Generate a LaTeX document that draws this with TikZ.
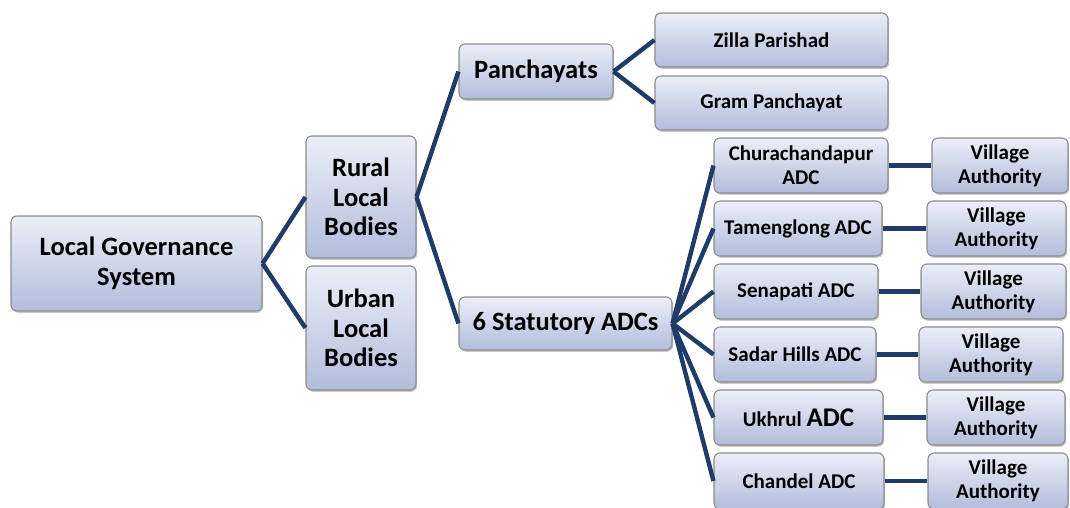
\documentclass[tikz,border=0pt]{standalone}
\usepackage{fontspec}
\setmainfont{Carlito}
\usetikzlibrary{shadows}
\definecolor{boxtop}{HTML}{ECEEF7}
\definecolor{boxbot}{HTML}{B2BDDC}
\definecolor{boxline}{HTML}{8C8C8C}
\definecolor{linkcol}{HTML}{1F3C68}
\tikzset{
  orgbox/.style={draw=boxline, line width=1.1pt, rounded corners=6pt,
    top color=boxtop, bottom color=boxbot, align=center,
    inner sep=0pt, font=\bfseries,
    drop shadow={shadow xshift=1.2pt, shadow yshift=-1.8pt, opacity=0.3, fill=black!70}},
  bigtext/.style={font=\fontsize{26.5}{29.5}\selectfont\bfseries},
  smalltext/.style={font=\fontsize{21}{24}\selectfont\bfseries},
  link/.style={draw=linkcol, line width=4.4pt}
}
% box from its left, right, top and bottom edges (x=1pt, y=-1pt)
\newcommand{\orgnode}[7]{%
  \node[orgbox,#7, minimum width=#3pt-#2pt, minimum height=#5pt-#4pt]
    (#1) at ({(#2+#3)/2},{(#4+#5)/2}) {#6};}
\begin{document}
\begin{tikzpicture}[x=1pt, y=-1pt]
\useasboundingbox (0,0) rectangle (1070,507);
% level 1
\orgnode{lgs}{11}{262}{216}{311}{Local Governance\\System}{bigtext}
% level 2
\orgnode{rural}{306}{416}{136}{258}{Rural\\Local\\Bodies}{bigtext}
\orgnode{urban}{306}{416}{266}{390}{Urban\\Local\\Bodies}{bigtext}
% level 3
\orgnode{panch}{459}{613}{44}{99}{Panchayats}{bigtext}
\orgnode{adcs}{459}{672}{297}{350}{6 Statutory ADCs}{bigtext}
% panchayat tiers
\orgnode{zilla}{655}{888}{13}{67}{Zilla Parishad}{smalltext}
\orgnode{gram}{655}{888}{76}{130}{Gram Panchayat}{smalltext}
% district councils
\orgnode{adc1}{714}{888}{138}{193}{Churachandapur\\ADC}{smalltext}
\orgnode{adc2}{714}{882}{201}{256}{Tamenglong ADC}{smalltext}
\orgnode{adc3}{714}{878}{264}{319}{Senapati ADC}{smalltext}
\orgnode{adc4}{714}{876}{327}{382}{Sadar Hills ADC}{smalltext}
\orgnode{adc5}{714}{883}{390}{445}{Ukhrul {\fontsize{27}{30}\selectfont ADC}}{smalltext}
\orgnode{adc6}{714}{884}{453}{509}{Chandel ADC}{smalltext}
% village authorities
\orgnode{va1}{932}{1068}{138}{193}{Village\\Authority}{smalltext}
\orgnode{va2}{927}{1066}{201}{256}{Village\\Authority}{smalltext}
\orgnode{va3}{921}{1066}{264}{319}{Village\\Authority}{smalltext}
\orgnode{va4}{919}{1063}{327}{382}{Village\\Authority}{smalltext}
\orgnode{va5}{927}{1065}{390}{445}{Village\\Authority}{smalltext}
\orgnode{va6}{928}{1068}{453}{509}{Village\\Authority}{smalltext}
% connectors
\draw[link] (lgs.east) -- (rural.west);
\draw[link] (lgs.east) -- (urban.west);
\draw[link] (rural.east) -- (panch.west);
\draw[link] (rural.east) -- (adcs.west);
\draw[link] (panch.east) -- (zilla.west);
\draw[link] (panch.east) -- (gram.west);
\foreach \i in {1,...,6}{
  \draw[link] (adcs.east) -- (adc\i.west);
  \draw[link] (adc\i.east) -- (va\i.west);
}
\end{tikzpicture}
\end{document}
